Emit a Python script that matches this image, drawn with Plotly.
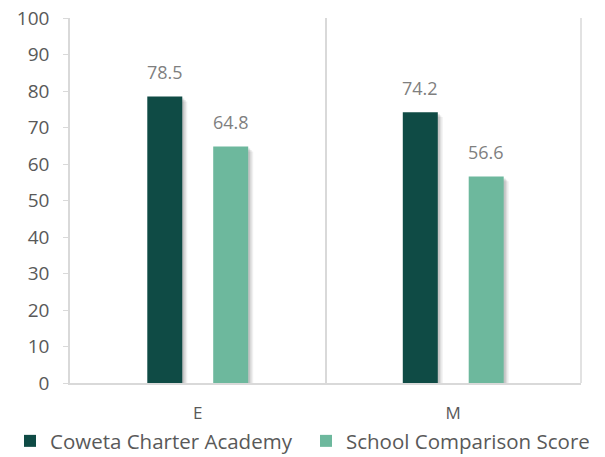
import plotly.graph_objects as go

categories = ["E", "M"]
academy = [78.5, 74.2]
comparison = [64.8, 56.6]
series_names = ["Coweta Charter Academy", "School Comparison Score"]
y_ticks = list(range(0, 101, 10))

DARK = "#0F4B45"
LIGHT = "#6DB89D"
FONT = "Open Sans"
GRID = "#D9D9D9"

BAR_W = 0.137          # bar width as fraction of category
HALF_SEP = 0.129       # centre offset of each bar from category centre
PX = 1 / 256           # one pixel in category units (approx)

fig = go.Figure()
series = [(academy, DARK, -HALF_SEP, series_names[0], "legend"),
          (comparison, LIGHT, HALF_SEP, series_names[1], "legend2")]

# soft drop shadows
for vals, _, centre, _, _ in series:
    for k, alpha in ((5, 0.06), (3.5, 0.08), (2, 0.11)):
        fig.add_trace(go.Bar(x=categories, y=vals, base=-k * 0.27,
                             width=BAR_W, offset=centre - BAR_W / 2 + k * PX,
                             marker=dict(color=f"rgba(0,0,0,{alpha})", line_width=0),
                             showlegend=False, hoverinfo="skip"))

for vals, color, centre, name, leg in series:
    fig.add_trace(go.Bar(x=categories, y=vals, name=name, width=BAR_W,
                         offset=centre - BAR_W / 2, legend=leg,
                         marker=dict(color=color, line_width=0)))

for vals, shift in ((academy, -33), (comparison, 33)):
    for c, v in zip(categories, vals):
        fig.add_annotation(x=c, y=v, text=f"{v:.1f}", showarrow=False, xshift=shift,
                           yshift=24, yanchor="middle",
                           font=dict(family=FONT, size=18, color="#7F7F7F"))

# right-hand category boundary line of the plot frame
fig.add_shape(type="line", xref="paper", yref="paper", x0=1, x1=1, y0=0, y1=1,
              line=dict(color=GRID, width=1.5))

legend_common = dict(orientation="h", y=-0.159, yanchor="middle", xanchor="left",
                     bgcolor="rgba(0,0,0,0)", itemwidth=30,
                     font=dict(family=FONT, size=20.5, color="#595959"))

fig.update_layout(
    width=605, height=457,
    margin=dict(l=70, r=24, t=18, b=74, autoexpand=False),
    paper_bgcolor="white", plot_bgcolor="white",
    barmode="overlay",
    font=dict(family=FONT, color="#595959"),
    showlegend=True,
    legend=dict(x=-0.1174, **legend_common),
    legend2=dict(x=0.4618, **legend_common),
)
fig.update_yaxes(range=[0, 100], tickvals=y_ticks, showgrid=False, zeroline=False,
                 showline=True, linecolor=GRID, linewidth=1.5, automargin=False,
                 ticks="outside", ticklen=5, tickcolor=GRID,
                 tickfont=dict(family=FONT, size=19, color="#595959"), ticklabelstandoff=10)
fig.update_xaxes(showgrid=True, gridcolor=GRID, gridwidth=1.5, tickson="boundaries",
                 showline=True, linecolor=GRID, linewidth=1.5, ticks="", automargin=False,
                 tickfont=dict(family=FONT, size=17, color="#595959"), ticklabelstandoff=14)

fig.write_html("out.html", config={"displayModeBar": False},
               post_script="document.body.style.margin='0';")
